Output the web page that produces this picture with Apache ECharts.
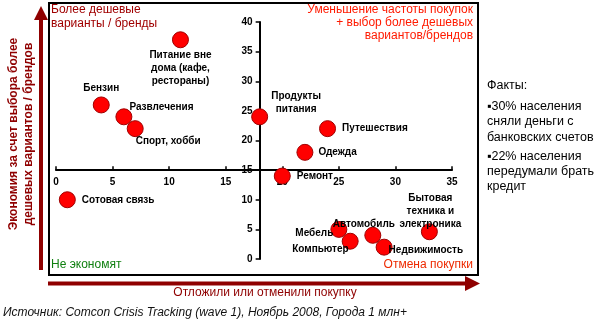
<!DOCTYPE html>
<html>
<head>
<meta charset="utf-8">
<script src="https://cdn.jsdelivr.net/npm/echarts@6/dist/echarts.min.js"></script>
<style>html,body{margin:0;padding:0;background:#fff}#c{width:600px;height:324px}</style>
</head>
<body>
<div id="c"></div>
<script>
// ---- Data ----
const categories = [
  'Питание вне\nдома (кафе,\nрестораны)',
  'Бензин',
  'Развлечения',
  'Спорт, хобби',
  'Продукты\nпитания',
  'Путешествия',
  'Одежда',
  'Ремонт',
  'Сотовая связь',
  'Бытовая\nтехника и\nэлектроника',
  'Мебель',
  'Компьютер',
  'Автомобиль',
  'Недвижимость'
];
const postponed = [11, 4, 6, 7, 18, 24, 22, 20, 1, 33, 25, 26, 28, 29];   // x: отложили/отменили покупку
const cheaper   = [37, 26, 24, 22, 24, 22, 18, 14, 10, 4.6, 5, 3, 4, 2]; // y: выбор более дешевых вариантов
const xTicks = [0, 5, 10, 15, 20, 25, 30, 35];
const yTicks = [0, 5, 10, 15, 20, 25, 30, 35, 40];
const factsLines = ['Факты:', '▪30% населения', 'сняли деньги с', 'банковских счетов', '▪22% населения', 'передумали брать', 'кредит'];

// ---- Layout / style (not data) ----
const labelLayout = [
  {position: 'bottom', offset: [0, -5], align: 'center'},
  {position: 'top', offset: [0, 3]},
  {position: 'right', offset: [-8, -10]},
  {position: 'right', offset: [-13, 13]},
  {position: 'right', offset: [23, -14], align: 'center'},
  {position: 'right', offset: [1, 0]},
  {position: 'right', offset: [0, 0]},
  {position: 'right', offset: [1, 0]},
  {position: 'right', offset: [1, 0]},
  {position: 'top', offset: [1, 13], align: 'center'},
  {position: 'left', offset: [8, 4]},
  {position: 'left', offset: [12, 8]},
  {position: 'top', offset: [-9, 9]},
  {position: 'right', offset: [-9, 3]}
];

const G = {left: 56, top: 22, width: 396, height: 237};
const xMin = xTicks[0], xMax = xTicks[xTicks.length - 1];
const yMin = yTicks[0], yMax = yTicks[yTicks.length - 1];
const xCross = 15, yCross = 18;
const xAxisOffset = -(xCross - yMin) / (yMax - yMin) * G.height;
const yAxisOffset = -(yCross - xMin) / (xMax - xMin) * G.width;

const FONT = 'Liberation Sans, Arial, sans-serif';
const DARK = '#8f0000';

const chart = echarts.init(document.getElementById('c'), null, {renderer: 'canvas'});

const data = categories.map((n, i) => ({
  name: n,
  value: [postponed[i], cheaper[i]],
  label: Object.assign({show: true}, labelLayout[i])
}));

function txt(x, y, text, opt) {
  return {
    type: 'text', x: x, y: y, z: 10,
    style: Object.assign({text: text, fill: '#000', font: '12px ' + FONT, textVerticalAlign: 'middle'}, opt || {})
  };
}

const graphics = [
  // frame
  {type: 'rect', shape: {x: 49, y: 3, width: 429, height: 272}, style: {fill: 'none', stroke: '#000', lineWidth: 2}, z: 1},
  // vertical arrow
  {type: 'rect', shape: {x: 39, y: 19, width: 4, height: 251}, style: {fill: DARK}},
  {type: 'polygon', shape: {points: [[34, 20], [48, 20], [41, 6]]}, style: {fill: DARK}},
  // horizontal arrow
  {type: 'rect', shape: {x: 48, y: 281.5, width: 418, height: 4}, style: {fill: DARK}},
  {type: 'polygon', shape: {points: [[465, 276], [465, 291], [480, 283.5]]}, style: {fill: DARK}},
  // vertical axis title
  {type: 'text', x: 13.5, y: 134, rotation: Math.PI / 2, z: 10,
    style: {text: 'Экономия за счет выбора более', fill: DARK, font: 'bold 12px ' + FONT, textAlign: 'center', textVerticalAlign: 'middle'}},
  {type: 'text', x: 28.5, y: 134, rotation: Math.PI / 2, z: 10,
    style: {text: 'дешевых вариантов / брендов', fill: DARK, font: 'bold 12px ' + FONT, textAlign: 'center', textVerticalAlign: 'middle'}},
  // corner texts
  txt(51, 10, 'Более дешевые', {fill: '#a00000'}),
  txt(51, 24, 'варианты / бренды', {fill: '#a00000'}),
  txt(473, 10, 'Уменьшение частоты покупок', {fill: '#ff1a00', textAlign: 'right'}),
  txt(473, 23, '+ выбор более дешевых', {fill: '#ff1a00', textAlign: 'right'}),
  txt(473, 36, 'вариантов/брендов', {fill: '#ff1a00', textAlign: 'right'}),
  txt(51, 265, 'Не экономят', {fill: '#108010'}),
  txt(473, 265, 'Отмена покупки', {fill: '#ee2a00', textAlign: 'right'}),
  // bottom
  txt(265, 293, 'Отложили или отменили покупку', {fill: DARK, textAlign: 'center'}),
  txt(3, 313, 'Источник: Comcon Crisis Tracking (wave 1), Ноябрь 2008, Города 1 млн+', {fill: '#111', font: 'italic 12px ' + FONT})
];
const factY = [86, 107, 122, 138, 157, 172, 187];
factsLines.forEach((l, i) => graphics.push(txt(487, factY[i], l, {font: '12.5px ' + FONT})));

chart.setOption({
  animation: false,
  backgroundColor: '#fff',
  grid: {left: G.left, top: G.top, width: G.width, height: G.height, containLabel: false},
  xAxis: {
    type: 'value', min: xMin, max: xMax, interval: 5, position: 'bottom', offset: xAxisOffset,
    axisLine: {onZero: false, lineStyle: {color: '#000', width: 2}},
    axisTick: {inside: true, length: 4, lineStyle: {color: '#000', width: 1.5}},
    axisLabel: {color: '#000', fontFamily: FONT, fontWeight: 'bold', fontSize: 10, margin: 7},
    splitLine: {show: false}
  },
  yAxis: {
    type: 'value', min: yMin, max: yMax, interval: 5, position: 'left', offset: yAxisOffset,
    axisLine: {show: true, onZero: false, lineStyle: {color: '#000', width: 2}},
    axisTick: {show: true, length: 4, lineStyle: {color: '#000', width: 1.5}},
    axisLabel: {color: '#000', fontFamily: FONT, fontWeight: 'bold', fontSize: 10, margin: 7},
    splitLine: {show: false}
  },
  series: [{
    type: 'scatter',
    symbol: 'circle',
    symbolSize: 16,
    z: 5,
    itemStyle: {color: '#ff0000', borderColor: '#a00000', borderWidth: 1, opacity: 1},
    label: {show: true, color: '#000', fontFamily: FONT, fontWeight: 'bold', fontSize: 10, lineHeight: 13, distance: 5, formatter: p => p.name},
    data: data
  }],
  graphic: graphics
});
</script>
</body>
</html>
